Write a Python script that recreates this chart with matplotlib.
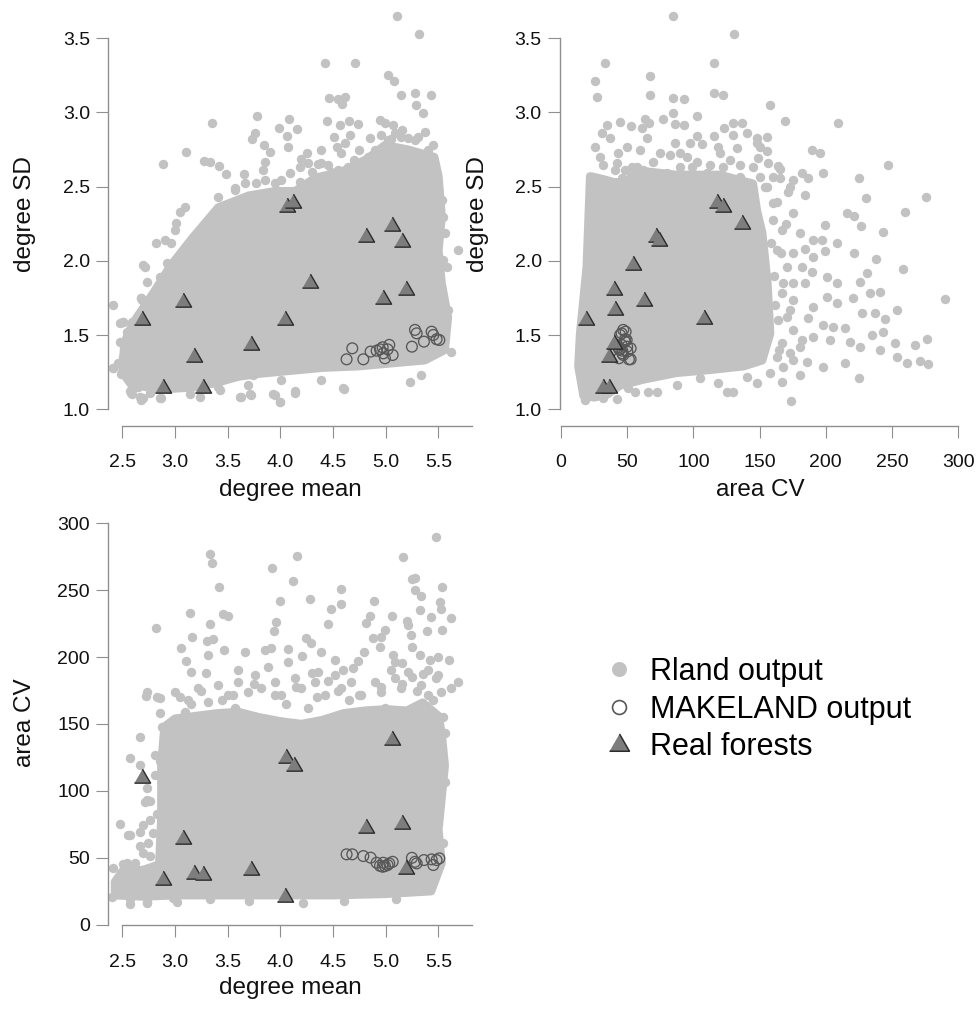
import numpy as np
import matplotlib.pyplot as plt
from matplotlib.lines import Line2D

plt.rcParams['font.family'] = ['Liberation Sans', 'DejaVu Sans']

# ---------------- data ----------------
# Rland output: dense core outline + scattered fringe points, per panel
p1_core = [(2.50, 1.25), (2.58, 1.17), (2.80, 1.14), (3.0, 1.14), (3.2, 1.15), (3.4, 1.18),
           (3.6, 1.22), (3.8, 1.24), (4.1, 1.26), (4.4, 1.28), (4.74, 1.29), (5.05, 1.31),
           (5.37, 1.33), (5.56, 1.40), (5.59, 1.62), (5.53, 1.85), (5.50, 2.07), (5.53, 2.30),
           (5.50, 2.57), (5.46, 2.70), (5.21, 2.75), (4.99, 2.78), (4.83, 2.69), (4.58, 2.60),
           (4.33, 2.56), (4.14, 2.47), (3.95, 2.47), (3.70, 2.44), (3.41, 2.36), (3.16, 2.15),
           (2.95, 1.96), (2.80, 1.79), (2.60, 1.58), (2.52, 1.45)]
p1_fringe = [(5.109, 3.650), (5.312, 3.529), (4.423, 3.336), (4.705, 3.332), (5.021, 3.251),
             (5.078, 3.214), (5.147, 3.118), (5.274, 3.129), (5.432, 3.118), (5.290, 3.050),
             (5.353, 2.995), (4.461, 3.100), (4.547, 3.089), (4.616, 3.102), (4.587, 3.055),
             (3.354, 2.927), (3.781, 2.976), (4.079, 2.956), (3.987, 2.894), (4.155, 2.889),
             (4.060, 2.842), (3.756, 2.860), (3.731, 2.819), (3.844, 2.781), (4.072, 2.765),
             (3.901, 2.732), (3.104, 2.732), (2.889, 2.653), (3.275, 2.675), (3.329, 2.669),
             (3.420, 2.642), (3.484, 2.586), (3.655, 2.586), (3.566, 2.489), (4.445, 2.943),
             (4.562, 2.916), (4.648, 2.943), (4.736, 2.920), (4.942, 2.949), (4.989, 2.927),
             (5.068, 2.916), (4.509, 2.837), (4.658, 2.848), (4.610, 2.792), (4.540, 2.770),
             (4.572, 2.729), (4.847, 2.826), (4.388, 2.747), (4.255, 2.729), (4.193, 2.687),
             (3.851, 2.669), (3.835, 2.613), (3.661, 2.523), (3.771, 2.523), (3.946, 2.527),
             (4.452, 2.646), (4.357, 2.651), (5.211, 2.826), (5.369, 2.871), (5.448, 2.781),
             (5.306, 2.837), (4.088, 2.590), (4.183, 2.534), (4.30, 2.60), (4.75, 2.75),
             (4.95, 2.85), (5.15, 2.88), (5.40, 2.72), (5.05, 2.82), (4.70, 2.68), (4.48, 2.60),
             (3.408, 2.433), (3.566, 2.478), (3.851, 2.545), (4.009, 2.545), (4.183, 2.635),
             (4.262, 2.658), (4.388, 2.658), (4.547, 2.613), (4.641, 2.635), (4.736, 2.658),
             (4.831, 2.702), (4.895, 2.747), (5.021, 2.815), (5.084, 2.860), (5.147, 2.837),
             (5.274, 2.815), (5.400, 2.747), (5.479, 2.567), (5.495, 2.478),
             (2.412, 1.702), (2.507, 1.590), (2.680, 1.748), (2.775, 1.748), (2.712, 1.961),
             (2.823, 2.118), (2.902, 2.141), (2.965, 2.123), (3.012, 2.253), (3.045, 2.332),
             (2.997, 2.208), (2.412, 1.276), (2.459, 1.310), (2.585, 1.108), (2.680, 1.063),
             (2.870, 1.074), (3.408, 1.152), (3.629, 1.085), (3.724, 1.096), (3.946, 1.096),
             (3.993, 1.051), (4.136, 1.112), (3.693, 1.164), (4.388, 1.197), (4.594, 1.141),
             (5.227, 1.186), (5.337, 1.231), (5.621, 1.388), (5.685, 2.073), (5.543, 2.006),
             (5.559, 2.186), (4.009, 1.197), (2.649, 1.152), (3.092, 2.365), (5.593, 1.669),
             (5.578, 1.961), (5.546, 2.298), (5.531, 2.410), (2.51, 1.59), (2.54, 1.52),
             (2.48, 1.455), (2.57, 1.42), (2.41, 1.275), (2.49, 1.24), (2.57, 1.12), (2.67, 1.08),
             (2.76, 1.11), (2.70, 1.97), (2.68, 1.75), (3.62, 1.08), (3.71, 1.10), (3.93, 1.10),
             (3.996, 1.05), (4.14, 1.12), (3.43, 1.13), (3.55, 1.23), (3.74, 1.23), (4.60, 1.14),
             (2.478, 1.579), (2.589, 1.590), (2.542, 1.421), (2.510, 1.354), (2.478, 1.309),
             (2.557, 1.208), (2.637, 1.151), (2.589, 1.106), (2.699, 1.073), (2.858, 1.073),
             (3.142, 1.106), (3.237, 1.084), (2.684, 1.736), (2.794, 1.747), (2.874, 1.736),
             (2.731, 1.860), (2.858, 1.894), (2.921, 1.983)]

p2_core = [(17, 1.09), (25, 1.08), (35, 1.10), (44.6, 1.16), (62, 1.20), (87, 1.245),
           (112, 1.265), (138, 1.29), (152, 1.33), (158, 1.51), (156, 1.85), (152, 2.19),
           (148, 2.34), (145, 2.52), (120, 2.58), (87, 2.58), (57, 2.61), (49.6, 2.53),
           (40, 2.53), (32, 2.55), (22, 2.57), (19.4, 1.96), (14.4, 1.51), (13.1, 1.29)]
p2_fringe = [(84.8, 3.650), (130.9, 3.529), (33.2, 3.332), (25.7, 3.214), (27.0, 3.102),
             (67.2, 3.246), (67.2, 3.118), (115.8, 3.336), (115.6, 3.129), (122.6, 3.118),
             (84.8, 3.096), (93.1, 3.091), (84.8, 2.995), (102.9, 2.976), (157.9, 3.050),
             (169.2, 2.943), (209.4, 2.927), (44.6, 2.938), (52.9, 2.909), (63.4, 2.954),
             (66.7, 2.927), (76.8, 2.954), (86.1, 2.920), (93.1, 2.916), (34.5, 2.916),
             (30.7, 2.860), (25.7, 2.770), (37.0, 2.826), (60.9, 2.893), (49.6, 2.770),
             (65.2, 2.826), (86.1, 2.792), (102.5, 2.842), (106.3, 2.788), (115.8, 2.842),
             (130.1, 2.848), (129.7, 2.927), (136.5, 2.927), (140.3, 2.860), (147.8, 2.826),
             (155.8, 2.833), (148.3, 2.792), (155.4, 2.743), (123.1, 2.893), (118.8, 2.770),
             (132.7, 2.759), (149.0, 2.692), (156.6, 2.662), (164.1, 2.640), (165.4, 2.617),
             (160.3, 2.567), (165.4, 2.556), (181.8, 2.590), (189.3, 2.747), (195.6, 2.729),
             (186.8, 2.556), (198.1, 2.590), (175.5, 2.545), (173.0, 2.500), (171.7, 2.466),
             (225.3, 2.561), (247.2, 2.646), (275.7, 2.433), (230.4, 2.422), (184.3, 2.444),
             (27.0, 2.556), (31.9, 2.646), (43.3, 2.725), (48.3, 2.613), (57.2, 2.635),
             (69.7, 2.669), (74.8, 2.567), (82.3, 2.714), (89.9, 2.725), (98.7, 2.635),
             (110.0, 2.590), (122.6, 2.635), (135.2, 2.646), (142.7, 2.523), (154.1, 2.500),
             (97.4, 2.792), (24.4, 2.567), (34.5, 2.523), (40.8, 2.613), (45.8, 2.556),
             (53.4, 2.635), (62.2, 2.613), (67.2, 2.567), (79.8, 2.590), (89.9, 2.635),
             (102.5, 2.669), (112.5, 2.646), (117.6, 2.567), (127.6, 2.680), (135.1, 2.567),
             (145.2, 2.635), (150.3, 2.567), (155.4, 2.500), (150.3, 2.770), (42.1, 2.658),
             (29.5, 2.702), (59.7, 2.747), (74.8, 2.725), (94.9, 2.702), (120.1, 2.725),
             (160.3, 2.276), (166.7, 2.208), (162.9, 2.073), (170.5, 1.961), (175.5, 1.849),
             (166.7, 1.782), (173.0, 1.669), (164.1, 1.602), (175.5, 1.534), (166.7, 1.445),
             (173.0, 1.377), (162.9, 1.354), (181.8, 1.467), (184.3, 1.849), (180.5, 2.186),
             (175.5, 2.321), (160.3, 2.388), (162, 1.70), (161, 1.90), (159, 2.12),
             (215.8, 2.321), (221.5, 2.303), (226.6, 2.235), (243.0, 2.197),
             (259.8, 2.332), (199.4, 2.242), (190.6, 2.141), (196.9, 2.141), (208.2, 2.123),
             (199.4, 2.069), (221.5, 2.055), (237.9, 2.011), (258.1, 1.945), (190.6, 2.029),
             (184.3, 2.078), (175.5, 2.051), (181.8, 1.961), (189.3, 1.927), (200.7, 1.894),
             (208.2, 1.849), (225.8, 1.860), (231.3, 1.916), (220.8, 1.748), (233.4, 1.782),
             (240.9, 1.793), (253.5, 1.669), (290.0, 1.741), (227.1, 1.647), (237.2, 1.647),
             (244.7, 1.606), (200.7, 1.759), (208.2, 1.714), (190.6, 1.691), (175.5, 1.737),
             (170.5, 1.624), (186.8, 1.613), (198.1, 1.568), (205.7, 1.557), (214.5, 1.546),
             (243.4, 1.523), (234.7, 1.501), (252.3, 1.445), (267.4, 1.433), (276.2, 1.472),
             (253.5, 1.354), (261.1, 1.314), (271.1, 1.328), (277.4, 1.305), (214.5, 1.310),
             (225.8, 1.422), (240.9, 1.400), (218.3, 1.456), (203.2, 1.467), (190.6, 1.489),
             (180.5, 1.422), (198.1, 1.287), (185.6, 1.321), (175.5, 1.332), (225.3, 1.213),
             (173.7, 1.058), (166.7, 1.186), (180.5, 1.231), (130.1, 1.119), (125.1, 1.119),
             (118.8, 1.175), (105.0, 1.209), (87.4, 1.164), (72.3, 1.119), (65.9, 1.119),
             (55.9, 1.119), (50.8, 1.141), (42.1, 1.067), (31.9, 1.074), (18.1, 1.063),
             (147.8, 1.175), (140.3, 1.220), (157.9, 1.243), (167.9, 1.287), (168, 1.85),
             (166, 2.05), (170, 2.25), (163, 2.40), (165, 1.40)]

p3_core = [(2.43, 22), (2.7, 21), (3.0, 22), (3.5, 22), (4.0, 22), (4.5, 22), (5.0, 23),
           (5.43, 25), (5.53, 46), (5.50, 71), (5.53, 95), (5.56, 119), (5.53, 143),
           (5.50, 156), (5.35, 166), (5.2, 160), (5.0, 161), (4.8, 160), (4.6, 158),
           (4.4, 153), (4.2, 150), (4.0, 152), (3.8, 155), (3.6, 159), (3.4, 158), (3.2, 156),
           (3.0, 154), (2.9, 148), (2.87, 120), (2.87, 80), (2.85, 45), (2.7, 41), (2.5, 40),
           (2.43, 32)]
p3_fringe = [(5.474, 289.5), (3.329, 277.0), (3.354, 270.1), (4.157, 275.8), (5.167, 275.0),
             (3.920, 266.4), (4.120, 256.9), (3.417, 252.6), (5.274, 259.3), (5.249, 258.4),
             (5.274, 250.2), (5.337, 245.9), (5.536, 252.6), (5.517, 241.0), (5.527, 236.0),
             (5.321, 235.2), (5.426, 230.2), (5.621, 229.0), (5.536, 220.3), (5.394, 219.5),
             (5.242, 216.5), (5.211, 224.0), (4.578, 250.9), (4.578, 239.5), (4.483, 236.0),
             (4.278, 243.2), (3.993, 242.2), (3.139, 233.2), (2.823, 222.0), (3.455, 232.2),
             (3.503, 230.9), (3.329, 224.5), (3.961, 226.0), (3.939, 219.7), (4.452, 224.5),
             (4.888, 242.2), (4.853, 230.7), (4.809, 225.3), (5.059, 230.9), (4.989, 220.3),
             (4.878, 214.1), (4.951, 215.3), (4.942, 207.3), (5.204, 227.0), (5.249, 207.8),
             (5.321, 201.6), (5.495, 200.3), (5.597, 197.8), (5.685, 181.6), (5.621, 176.7),
             (3.161, 214.8), (3.060, 206.6), (3.107, 197.3), (3.313, 201.6), (3.304, 212.0),
             (3.361, 213.5), (3.465, 205.3), (3.155, 189.1), (3.297, 187.9), (2.722, 170.9),
             (2.855, 169.2), (3.661, 204.0), (3.851, 205.3), (3.914, 207.0), (4.072, 205.8),
             (4.208, 200.8), (4.246, 214.1), (4.293, 210.3), (4.388, 204.0), (4.515, 197.8),
             (4.072, 196.6), (3.882, 192.8), (4.300, 188.3), (4.357, 189.1), (4.594, 190.4),
             (4.689, 191.6), (4.736, 197.1), (4.793, 203.6), (5.068, 201.6), (5.090, 196.6),
             (5.154, 195.4), (5.046, 190.4), (5.416, 197.8), (5.353, 187.1), (5.479, 184.2),
             (2.997, 174.1), (3.123, 167.9), (3.218, 176.7), (3.313, 166.7), (3.408, 179.1),
             (3.503, 171.7), (3.598, 181.6), (3.693, 174.1), (3.756, 186.6), (3.819, 176.7),
             (3.946, 181.6), (4.009, 171.7), (4.136, 184.2), (4.198, 176.7), (4.325, 181.6),
             (4.420, 171.7), (4.515, 186.6), (4.578, 176.7), (4.673, 181.6), (4.768, 171.7),
             (4.895, 181.6), (4.958, 174.1), (5.085, 184.2), (5.147, 176.7), (5.211, 189.1),
             (5.337, 179.1), (5.400, 171.7), (5.495, 186.6), (5.527, 174.1), (3.092, 159.2),
             (3.566, 161.7), (4.262, 161.7), (4.989, 161.7),
             (2.399, 20.9), (2.478, 75.6), (2.573, 67.0), (2.668, 58.5), (2.509, 45.0),
             (2.731, 102.4), (2.715, 91.5), (2.762, 78.0), (2.573, 124.9), (2.665, 140.0),
             (2.807, 126.5), (2.760, 51.0), (2.618, 42.5), (2.731, 174.1), (2.826, 170.4),
             (2.858, 158.0), (2.874, 148.0), (2.542, 45.9), (2.557, 67.0), (2.699, 74.5),
             (2.731, 93.2), (2.573, 15.5), (2.731, 16.5), (2.984, 19.7), (3.332, 19.0),
             (4.217, 16.5), (3.7, 17.5), (4.6, 18), (5.1, 19), (5.546, 60.8), (5.561, 106.9),
             (5.561, 143.0), (5.546, 155.5), (3.05, 170), (3.25, 175), (3.55, 172), (3.75, 180),
             (3.95, 172), (4.15, 178), (4.35, 170), (4.55, 175), (4.75, 172), (4.95, 178),
             (5.15, 180), (5.30, 175), (5.45, 168), (3.15, 165), (3.45, 168), (4.05, 165),
             (4.65, 168), (5.25, 185), (5.40, 190), (3.6, 190), (4.45, 182),
             (2.747, 61.0), (2.794, 68.3), (2.762, 92.7), (2.810, 112.2), (2.826, 82.9),
             (2.668, 69.5), (2.699, 53.7), (2.620, 46.3), (2.415, 42.7), (2.462, 24.4),
             (2.573, 19.5), (2.731, 17.1), (3.016, 17.1), (2.668, 119.5), (2.858, 122.0)]

# MAKELAND output (degree mean, degree SD, area CV)
mk_deg_mean = [4.628, 4.682, 4.787, 4.856, 4.913, 4.945, 4.970, 4.976, 4.992, 5.017, 5.033,
               5.065, 5.248, 5.277, 5.293, 5.362, 5.435, 5.451, 5.482, 5.508]
mk_deg_sd = [1.337, 1.411, 1.337, 1.389, 1.395, 1.404, 1.418, 1.377, 1.344, 1.404, 1.434,
             1.366, 1.422, 1.535, 1.512, 1.456, 1.523, 1.501, 1.472, 1.467]
mk_area_cv = [52.6, 52.6, 51.3, 50.1, 46.3, 44.0, 43.3, 46.3, 43.8, 44.6, 45.8, 47.0,
              50.0, 47.0, 45.8, 48.3, 48.8, 44.6, 48.3, 49.6]

# Real forests, as placed in each panel
p1_forest_x = [2.683, 2.889, 3.072, 3.183, 3.268, 3.718, 4.043, 4.059, 4.122, 4.281, 4.812,
               4.976, 5.055, 5.157, 5.191]
p1_forest_y = [1.602, 1.141, 1.726, 1.355, 1.141, 1.434, 1.602, 2.366, 2.388, 1.849, 2.159,
               1.741, 2.238, 2.125, 1.804]
p2_forest_x = [18.9, 31.5, 36.5, 36.5, 40.0, 40.8, 40.3, 54.1, 62.9, 71.5, 74.0, 108.3,
               117.6, 122.6, 136.9]
p2_forest_y = [1.602, 1.141, 1.141, 1.354, 1.440, 1.669, 1.804, 1.972, 1.732, 2.163, 2.136,
               1.606, 2.388, 2.365, 2.249]
p3_forest_x = [2.683, 2.889, 3.072, 3.180, 3.270, 3.718, 4.043, 4.050, 4.130, 4.812, 5.055,
               5.157, 5.191]
p3_forest_y = [109.8, 33.2, 64.2, 37.8, 37.0, 41.2, 20.5, 124.3, 118.8, 72.0, 138.0, 75.0, 42.0]

deg_mean_ticks = [2.5, 3.0, 3.5, 4.0, 4.5, 5.0, 5.5]
deg_sd_ticks = [1.0, 1.5, 2.0, 2.5, 3.0, 3.5]
area_ticks = [0, 50, 100, 150, 200, 250, 300]

# ---------------- style ----------------
CLOUD = '#c2c2c2'
TRI_FACE = '#7d7d7d'
TRI_EDGE = '#2b2b2b'
RING = '#575757'
AXC = '#8f8f8f'
tri = [(-1, -0.577), (1, -0.577), (0, 1.155)]

fig = plt.figure(figsize=(9.77, 10.13), dpi=100)


def panel(rect, xlim, ylim, xb, yb, xt, yt, xfmt, yfmt, core, fringe, rx, ry, fx, fy):
    ax = fig.add_axes(rect)
    cx, cy = np.array(core).T
    ax.fill(cx, cy, fc=CLOUD, ec=CLOUD, lw=6, joinstyle='round', zorder=1)
    px, py = np.array(fringe).T
    ax.scatter(px, py, s=46, c=CLOUD, lw=0, zorder=2)
    ax.scatter(rx, ry, s=60, facecolors='none', edgecolors=RING, lw=0.95, zorder=3)
    ax.scatter(fx, fy, marker=tri, s=180, c=TRI_FACE, edgecolors=TRI_EDGE, lw=1.0, zorder=4)
    ax.set_xlim(xlim)
    ax.set_ylim(ylim)
    for s in ['top', 'right']:
        ax.spines[s].set_visible(False)
    for s in ['left', 'bottom']:
        ax.spines[s].set_color(AXC)
        ax.spines[s].set_linewidth(1.0)
    ax.spines['bottom'].set_bounds(*xb)
    ax.spines['left'].set_bounds(*yb)
    ax.set_xticks(xt, [xfmt.format(v) for v in xt])
    ax.set_yticks(yt, [yfmt.format(v) for v in yt])
    ax.tick_params(axis='both', direction='out', length=8.4, width=0.8, color=AXC,
                   labelsize=14, labelcolor='#111111')
    ax.tick_params(axis='x', pad=12)
    ax.tick_params(axis='y', pad=4.8)
    ax.patch.set_alpha(0)
    return ax


panel([0.11085, 0.57976, 0.37226, 0.41234], (2.367, 5.818), (0.8895, 3.704),
      (2.5, 5.815), (1.0, 3.5), deg_mean_ticks, deg_sd_ticks, '{:.1f}', '{:.1f}',
      p1_core, p1_fringe, mk_deg_mean, mk_deg_sd, p1_forest_x, p1_forest_y)
panel([0.57318, 0.57976, 0.41146, 0.41234], (-0.755, 302.9), (0.8895, 3.704),
      (0, 300), (1.0, 3.5), area_ticks, deg_sd_ticks, '{:d}', '{:.1f}',
      p2_core, p2_fringe, mk_area_cv, mk_deg_sd, p2_forest_x, p2_forest_y)
panel([0.11085, 0.08657, 0.37226, 0.41194], (2.367, 5.818), (-0.45, 311.4),
      (2.5, 5.815), (0, 300), deg_mean_ticks, area_ticks, '{:.1f}', '{:d}',
      p3_core, p3_fringe, mk_deg_mean, mk_area_cv, p3_forest_x, p3_forest_y)

W, H = 977, 1013
lab = dict(fontsize=17.5, color='#111111', ha='center', va='center')
fig.text(25 / W, 1 - 214 / H, 'degree SD', rotation=90, **lab)
fig.text(478 / W, 1 - 214 / H, 'degree SD', rotation=90, **lab)
fig.text(290 / W, 1 - 490 / H, 'degree mean', **lab)
fig.text(760 / W, 1 - 490 / H, 'area CV', **lab)
fig.text(25 / W, 1 - 723 / H, 'area CV', rotation=90, **lab)
fig.text(290 / W, 1 - 988 / H, 'degree mean', **lab)

handles = [
    Line2D([], [], ls='none', marker='o', ms=10.8, mfc=CLOUD, mec='none'),
    Line2D([], [], ls='none', marker='o', ms=10.0, mfc='none', mec=RING, mew=1.2),
    Line2D([], [], ls='none', marker=tri, ms=16.6, mfc=TRI_FACE, mec=TRI_EDGE, mew=1.1),
]
fig.legend(handles, ['Rland output', 'MAKELAND output', 'Real forests'],
           loc='upper left', bbox_to_anchor=(603.7 / W, 1 - 657 / H), frameon=False,
           fontsize=22, handlelength=1.0, handletextpad=0.51, labelspacing=0.25,
           borderpad=0, borderaxespad=0)

fig.savefig('out.png', dpi=100)
